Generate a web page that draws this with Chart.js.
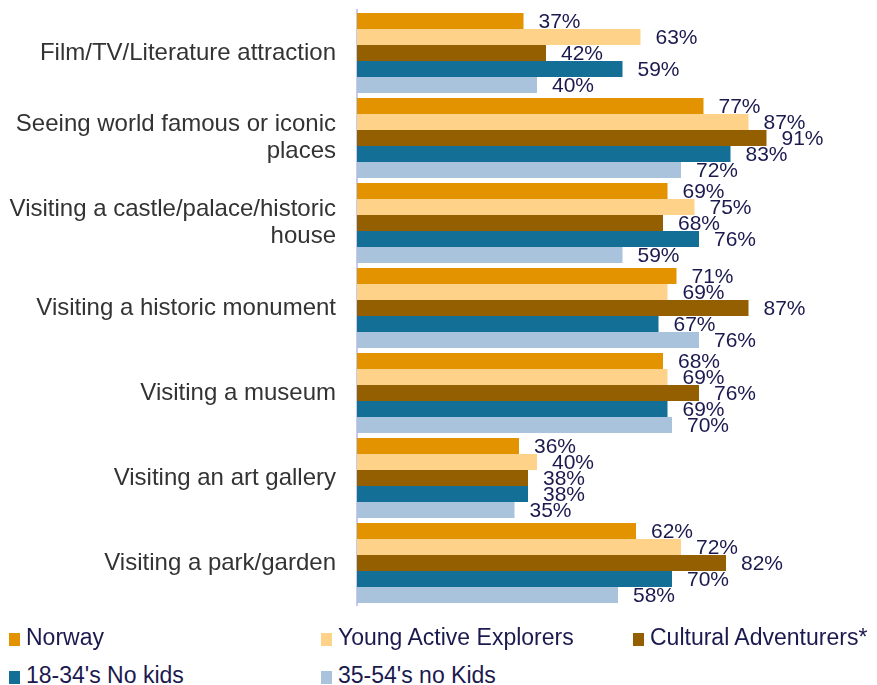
<!DOCTYPE html>
<html lang="en">
<head>
<meta charset="UTF-8">
<title>Attractions by segment</title>
<script src="https://cdn.jsdelivr.net/npm/chart.js"></script>
<style>
  body { margin: 0; background: #fff; font-family: "Liberation Sans", Arial, sans-serif; }
  #wrap { position: relative; width: 877px; height: 685px; overflow: hidden; }
  #chartBox { position: absolute; left: 0; top: -24px; width: 877px; height: 664px; }
  .leg { position: absolute; font-size: 23px; color: #1b1a4f; white-space: nowrap; line-height: 26px; }
  .leg span { display: inline-block; width: 11px; height: 13px; margin-right: 6px; vertical-align: -1px; }
</style>
</head>
<body>
<div id="wrap">
  <div id="chartBox"><canvas id="myChart"></canvas></div>
  <div id="legend"></div>
</div>
<script>
// categories and series
var categories = [
  "Film/TV/Literature attraction",
  ["Seeing world famous or iconic", "places"],
  ["Visiting a castle/palace/historic", "house"],
  "Visiting a historic monument",
  "Visiting a museum",
  "Visiting an art gallery",
  "Visiting a park/garden"
];
var seriesNames = ["Norway", "Young Active Explorers", "Cultural Adventurers*", "18-34's No kids", "35-54's no Kids"];
var seriesColors = ["#E39200", "#FFD28A", "#945F00", "#146F97", "#A9C3DC"];

var norway     = [37, 77, 69, 71, 68, 36, 62];
var youngAct   = [63, 87, 75, 69, 69, 40, 72];
var culturalAd = [42, 91, 68, 87, 76, 38, 82];
var noKids1834 = [59, 83, 76, 67, 69, 38, 70];
var noKids3554 = [40, 72, 59, 76, 70, 35, 58];
var allSeries = [norway, youngAct, culturalAd, noKids1834, noKids3554];

// value labels right of each bar
var valueLabels = {
  id: 'valueLabels',
  afterDatasetsDraw: function(chart) {
    var ctx = chart.ctx;
    ctx.save();
    ctx.font = '21px "Liberation Sans", Arial, sans-serif';
    ctx.fillStyle = '#1b1a4f';
    ctx.textAlign = 'left';
    ctx.textBaseline = 'middle';
    chart.data.datasets.forEach(function(ds, i) {
      chart.getDatasetMeta(i).data.forEach(function(bar, j) {
        ctx.fillText(ds.data[j] + '%', bar.x + 15, bar.y + 1);
      });
    });
    ctx.restore();
  }
};

var ctx = document.querySelector('#myChart');
new Chart(ctx, {
  type: 'bar',
  data: {
    labels: categories,
    datasets: seriesNames.map(function(name, i) {
      return {
        label: name,
        data: allSeries[i],
        backgroundColor: seriesColors[i],
        borderWidth: 0,
        barPercentage: 1.0,
        categoryPercentage: 0.94
      };
    })
  },
  options: {
    indexAxis: 'y',
    responsive: true,
    maintainAspectRatio: false,
    animation: false,
    layout: { padding: { top: 12, bottom: 6, right: 70, left: 0 } },
    plugins: { legend: { display: false }, tooltip: { enabled: false } },
    scales: {
      x: { display: false, min: 0, max: 100 },
      y: {
        afterFit: function(scale) { scale.width = 357; },
        grid: { display: false, drawTicks: false },
        border: { display: true, color: '#C9C8EE', width: 2 },
        ticks: {
          padding: 21,
          color: '#333333',
          font: { family: '"Liberation Sans", Arial, sans-serif', size: 24, lineHeight: 1.12 }
        }
      }
    }
  },
  plugins: [valueLabels]
});

// legend laid out in three columns
var legPos = [[9, 624], [321, 624], [633, 624], [9, 662], [321, 662]];
var legHtml = '';
seriesNames.forEach(function(name, i) {
  legHtml += '<div class="leg" style="left:' + legPos[i][0] + 'px;top:' + legPos[i][1] + 'px">' +
    '<span style="background:' + seriesColors[i] + '"></span>' + name + '</div>';
});
document.getElementById('legend').innerHTML = legHtml;
</script>
</body>
</html>
